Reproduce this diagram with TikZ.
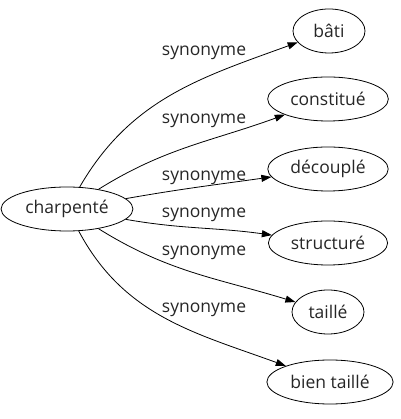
\documentclass[tikz,border=0pt]{standalone}
\usepackage{fontspec}
\setmainfont{Open Sans}
\usetikzlibrary{shapes.geometric,arrows.meta}

\begin{document}
\begin{tikzpicture}[x=1pt,y=1pt,line width=0.8pt,>={Triangle[length=10pt,width=7pt]},
    word/.style={draw, ellipse, fill=none, text centered, text=black!85, inner xsep=5pt, inner ysep=0pt, minimum height=44pt, minimum width=72pt, font=\fontsize{17.5}{20}\selectfont},
    syn/.style={text=black!85, inner sep=0pt, font=\fontsize{17.5}{20}\selectfont}]
    \useasboundingbox (0,0) rectangle (400,419);

    \node[word] (c) at (67, 210) {charpenté};
    \node[word] (b1) at (329, 388) {bâti};
    \node[word] (b2) at (328, 320) {constitué};
    \node[word] (b3) at (328, 250) {découplé};
    \node[word] (b4) at (328, 176) {structuré};
    \node[word] (b5) at (328, 107) {taillé};
    \node[word] (b6) at (330, 37) {bien taillé};

    \node[syn] (l1) at (204, 366) {synonyme};
    \node[syn] (l2) at (204, 298) {synonyme};
    \node[syn] (l3) at (204, 241) {synonyme};
    \node[syn] (l4) at (204, 204) {synonyme};
    \node[syn] (l5) at (204, 166) {synonyme};
    \node[syn] (l6) at (204, 109) {synonyme};

    \draw [->] (c) to[out=60, in=200] (b1);
    \draw [->] (c) to[out=32, in=200] (b2);
    \draw [->] (c) to[out=10, in=188] (b3);
    \draw [->] (c) to[out=-10, in=172] (b4);
    \draw [->] (c) to[out=-32, in=163] (b5);
    \draw [->] (c) to[out=-62, in=160] (b6);
\end{tikzpicture}
\end{document}
